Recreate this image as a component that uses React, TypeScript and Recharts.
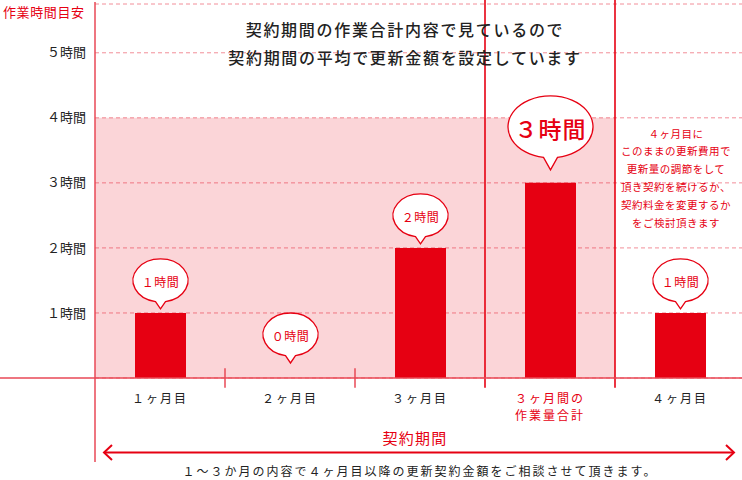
import React from "react";
import {
  ComposedChart,
  Bar,
  XAxis,
  YAxis,
  CartesianGrid,
  ReferenceArea,
  ReferenceLine,
  LabelList,
} from "recharts";

// ---------- data ----------
const categories = ["１ヶ月目", "２ヶ月目", "３ヶ月目", "３ヶ月間の\n作業量合計", "４ヶ月目"];
const hours = [1, 0, 2, 3, 1];
const isTotal = [false, false, false, true, false];
const bubbleLabels = ["１時間", "０時間", "２時間", "３時間", "１時間"];
const hourTicks = [1, 2, 3, 4, 5];
const tickLabels = ["１時間", "２時間", "３時間", "４時間", "５時間"];
const yAxisTitle = "作業時間目安";
const titleLines = ["契約期間の作業合計内容で見ているので", "契約期間の平均で更新金額を設定しています"];
const noteLines = [
  "４ヶ月目に",
  "このままの更新費用で",
  "更新量の調節をして",
  "頂き契約を続けるか、",
  "契約料金を変更するか",
  "をご検討頂きます",
];
const periodLabel = "契約期間";
const footnote = "１〜３か月の内容で４ヶ月目以降の更新契約金額をご相談させて頂きます。";
const shadeLevel = 4; // hours band top
const shadeFrom = categories[0];
const shadeTo = categories[3];
const totalCategory = categories[3];
const dividerCategories = [categories[1], categories[2]];

const data = categories.map((name, i) => ({ name, hours: hours[i] }));

// ---------- styles ----------
const RED = "#e60012";
const AXIS = "#e94856";
const GRID = "#f28e99";
const FONT = "'Noto Sans CJK JP', 'Noto Sans', sans-serif";

function bubblePath(cx: number, cy: number, rx: number, ry: number, half: number, tipY: number) {
  const yb = cy + ry * Math.sqrt(1 - (half / rx) * (half / rx));
  return `M ${cx - half} ${yb} A ${rx} ${ry} 0 1 1 ${cx + half} ${yb} L ${cx} ${tipY} Z`;
}

function Bubble(props: any) {
  const { x, y, width, height, value } = props;
  const idx = categories.indexOf(value);
  if (idx < 0) return null;
  const cx = Number(x) + Number(width) / 2;
  const h = Number(height);
  const top = h >= 0 ? Number(y) : Number(y) + h;
  const big = isTotal[idx];
  const zero = hours[idx] === 0;
  const rx = big ? 42.5 : 27.5;
  const ry = big ? 31 : 21.5;
  const gap = big ? 13 : zero ? 15 : 4;
  const tail = big ? 12 : 7;
  const tipY = top - gap;
  const cy = tipY - tail - ry;
  return (
    <g>
      <path
        d={bubblePath(cx, cy, rx, ry, big ? 7 : 5, tipY)}
        fill="#fff"
        stroke={RED}
        strokeWidth={1.3}
      />
      <text
        x={cx}
        y={cy + 1}
        textAnchor="middle"
        dominantBaseline="central"
        fill={RED}
        fontFamily={FONT}
        fontSize={big ? 23 : 12}
        fontWeight={big ? 500 : 400}
        style={{ letterSpacing: big ? "1px" : "0.5px" }}
      >
        {bubbleLabels[idx]}
      </text>
    </g>
  );
}

function MonthTick(props: any) {
  const { x, y, payload } = props;
  const idx = categories.indexOf(payload.value);
  const lines = String(payload.value).split("\n");
  const total = isTotal[idx];
  return (
    <g>
      {lines.map((l, i) => (
        <text
          key={i}
          x={x}
          y={Number(y) + 19 + i * 17}
          textAnchor="middle"
          dominantBaseline="central"
          fill={total ? RED : "#222"}
          fontFamily={FONT}
          fontSize={12}
          style={{ letterSpacing: "2px" }}
        >
          {l}
        </text>
      ))}
    </g>
  );
}

export default function App() {
  return (
    <div
      style={{
        position: "absolute",
        left: 0,
        top: 0,
        width: 742,
        height: 480,
        overflow: "hidden",
        background: "#fff",
      }}
    >
      <ComposedChart
        width={745}
        height={480}
        data={data}
        margin={{ top: 4, right: 0, left: 0, bottom: 72 }}
      >
        <XAxis
          xAxisId="cat"
          dataKey="name"
          type="category"
          padding={{ left: 95, right: 0 }}
          axisLine={{ stroke: AXIS, strokeWidth: 1.5 }}
          tickLine={false}
          tickSize={0}
          tickMargin={0}
          height={30}
          interval={0}
          tick={<MonthTick />}
        />
        <YAxis
          yAxisId="h"
          type="number"
          domain={[0, 5.75]}
          ticks={hourTicks}
          allowDataOverflow
          hide
        />

        <CartesianGrid
          xAxisId="cat"
          yAxisId="h"
          vertical={false}
          x={95}
          width={650}
          stroke={GRID}
          strokeDasharray="4 3"
        />

        <ReferenceArea
          xAxisId="cat"
          yAxisId="h"
          x1={shadeFrom}
          x2={shadeTo}
          y1={0}
          y2={shadeLevel}
          fill={RED}
          fillOpacity={0.165}
          stroke="none"
          ifOverflow="visible"
        />

        {hourTicks.map((t, i) => (
          <ReferenceLine
            key={"g" + t}
            xAxisId="cat"
            yAxisId="h"
            position="start"
            segment={[
              { x: categories[0], y: t },
              { x: categories[0], y: t },
            ]}
            stroke="none"
            ifOverflow="visible"
            label={{
              value: tickLabels[i],
              position: "left",
              offset: 9,
              fill: "#222",
              fontSize: 13,
              fontFamily: FONT,
            }}
          />
        ))}

        {dividerCategories.map((c) => (
          <ReferenceLine
            key={"d" + c}
            xAxisId="cat"
            yAxisId="h"
            position="start"
            segment={[
              { x: c, y: -0.15 },
              { x: c, y: 0.15 },
            ]}
            stroke={AXIS}
            strokeWidth={1.5}
            ifOverflow="visible"
          />
        ))}

        {(["start", "end"] as const).map((p) => (
          <ReferenceLine
            key={"t" + p}
            xAxisId="cat"
            yAxisId="h"
            position={p}
            segment={[
              { x: totalCategory, y: -0.15 },
              { x: totalCategory, y: 5.85 },
            ]}
            stroke={RED}
            strokeWidth={1.6}
            ifOverflow="visible"
          />
        ))}

        <ReferenceLine
          xAxisId="cat"
          yAxisId="h"
          position="start"
          segment={[
            { x: categories[0], y: -1.29 },
            { x: categories[0], y: 5.78 },
          ]}
          stroke={AXIS}
          strokeWidth={1.5}
          ifOverflow="visible"
        />

        <Bar
          xAxisId="cat"
          yAxisId="h"
          dataKey="hours"
          fill={RED}
          barSize={51}
          minPointSize={0.01}
          isAnimationActive={false}
        >
          <LabelList dataKey="name" content={<Bubble />} />
        </Bar>
      </ComposedChart>

      <svg
        width={742}
        height={480}
        style={{ position: "absolute", left: 0, top: 0, pointerEvents: "none" }}
      >
        <text
          x={3}
          y={11}
          dominantBaseline="central"
          fill={RED}
          fontFamily={FONT}
          fontSize={13}
          style={{ letterSpacing: "0.6px" }}
        >
          {yAxisTitle}
        </text>
        {titleLines.map((l, i) => (
          <text
            key={i}
            x={405}
            y={28.5 + i * 28.5}
            textAnchor="middle"
            dominantBaseline="central"
            fill="#222"
            fontFamily={FONT}
            fontSize={16}
            fontWeight={500}
            style={{ letterSpacing: "1.7px" }}
          >
            {l}
          </text>
        ))}
        {noteLines.map((l, i) => (
          <text
            key={i}
            x={676}
            y={133 + i * 17.8}
            textAnchor="middle"
            dominantBaseline="central"
            fill={RED}
            fontFamily={FONT}
            fontSize={10.5}
            style={{ letterSpacing: "0.5px" }}
          >
            {l}
          </text>
        ))}
        <text
          x={415}
          y={437}
          textAnchor="middle"
          dominantBaseline="central"
          fill={RED}
          fontFamily={FONT}
          fontSize={15}
          style={{ letterSpacing: "1.3px" }}
        >
          {periodLabel}
        </text>
        <g stroke={RED} strokeWidth={2} fill="none">
          <line x1={104} y1={452.5} x2={734} y2={452.5} />
          <polyline points="112,445 104,452.5 112,460" />
          <polyline points="726,445 734,452.5 726,460" />
        </g>
        <text
          x={420}
          y={470}
          textAnchor="middle"
          dominantBaseline="central"
          fill="#222"
          fontFamily={FONT}
          fontSize={12}
          style={{ letterSpacing: "2px" }}
        >
          {footnote}
        </text>
      </svg>
    </div>
  );
}
